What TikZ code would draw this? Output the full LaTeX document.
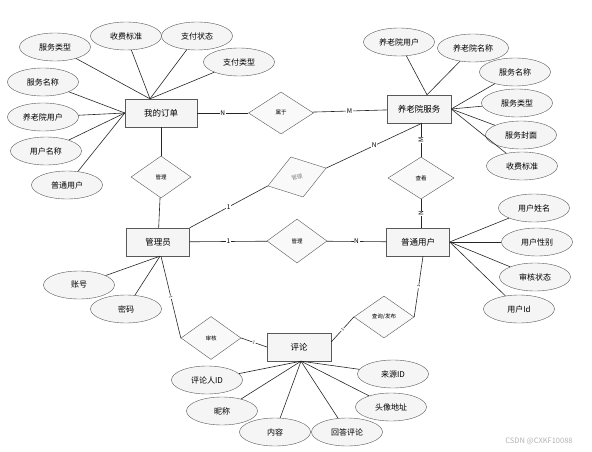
\documentclass[tikz,border=0pt]{standalone}
\usepackage{fontspec}
\setmainfont{Noto Sans CJK SC}
\usepackage{tikz}
\usetikzlibrary{shapes.geometric, positioning, calc}

\begin{document}
\begin{tikzpicture}[x=1pt, y=-1pt,
    entity/.style={rectangle, draw=gray!70!black, fill=gray!8, minimum width=64pt, minimum height=28pt, inner sep=0pt, font=\fontsize{8.5}{10}\selectfont},
    attr/.style={ellipse, draw=gray!70!black, fill=gray!8, minimum width=71pt, minimum height=28pt, inner sep=0pt, font=\fontsize{8}{10}\selectfont},
    rel/.style={diamond, draw=gray!70!black, fill=gray!5, minimum width=60pt, minimum height=42pt, inner sep=0pt, font=\fontsize{5.5}{6}\selectfont},
    link/.style={draw=black!85, line width=0.6pt},
    card/.style={fill=white, inner sep=0.6pt, font=\fontsize{6.5}{7}\selectfont}
]
\useasboundingbox (0,0) rectangle (592,452);

% entities
\node[entity, minimum width=72pt] (order) at (161,113) {我的订单};
\node[entity] (service) at (419,109) {养老院服务};
\node[entity, minimum width=63pt] (admin) at (158,242) {管理员};
\node[entity, minimum width=63pt] (user) at (418,242) {普通用户};
\node[entity] (comment) at (299,347) {评论};

% relations
\node[rel, minimum width=65pt] (belong) at (281,113) {属于};
\node[rel] (mgorder) at (161,177) {管理};
\node[rel, minimum width=61pt, rotate=17, text=gray] (mgservice) at (297,177) {管理};
\node[rel, minimum width=66pt] (view) at (421,178) {查看};
\node[rel, minimum height=44pt] (mguser) at (297,241) {管理};
\node[rel] (publish) at (384,317) {查询/发布};
\node[rel, minimum height=43pt] (audit) at (211,338) {审核};

% order attributes
\node[attr] (oType) at (55,47) {服务类型};
\node[attr] (oFee) at (126,36) {收费标准};
\node[attr] (oPayState) at (197,36) {支付状态};
\node[attr] (oPayType) at (239,62) {支付类型};
\node[attr] (oName) at (43,82) {服务名称};
\node[attr] (oHome) at (43,117) {养老院用户};
\node[attr] (oUserName) at (46,151) {用户名称};
\node[attr] (oUser) at (67,185) {普通用户};

% service attributes
\node[attr] (sHome) at (399,42) {养老院用户};
\node[attr] (sHomeName) at (473,48) {养老院名称};
\node[attr] (sName) at (515,72) {服务名称};
\node[attr] (sType) at (517,103) {服务类型};
\node[attr] (sCover) at (521,135) {服务封面};
\node[attr] (sFee) at (522,166) {收费标准};

% user attributes
\node[attr] (uName) at (534,208) {用户姓名};
\node[attr] (uSex) at (537,242) {用户性别};
\node[attr] (uState) at (535,277) {审核状态};
\node[attr] (uId) at (519,309) {用户Id};

% admin attributes
\node[attr] (aAccount) at (79,285) {账号};
\node[attr] (aPwd) at (126,309) {密码};

% comment attributes
\node[attr] (cUser) at (207,380) {评论人ID};
\node[attr] (cNick) at (222,411) {昵称};
\node[attr] (cText) at (275,432) {内容};
\node[attr] (cReply) at (347,432) {回答评论};
\node[attr] (cSource) at (393,374) {来源ID};
\node[attr] (cAvatar) at (391,407) {头像地址};

% attribute links
\foreach \a in {oType, oFee, oPayState, oPayType}
    \draw[link] (\a) -- ([xshift=-11pt]order.north);
\foreach \a in {oName, oHome, oUserName, oUser}
    \draw[link] (\a) -- (order.west);
\foreach \a in {sHome, sHomeName}
    \draw[link] (\a) -- ([xshift=8pt]service.north);
\foreach \a in {sName, sType, sCover, sFee}
    \draw[link] (\a) -- (service.east);
\foreach \a in {uName, uSex, uState, uId}
    \draw[link] (\a) -- (user.east);
\foreach \a in {aAccount, aPwd}
    \draw[link] (\a) -- ([xshift=2pt]admin.south);
\foreach \a in {cUser, cNick, cText, cReply, cSource, cAvatar}
    \draw[link] (\a) -- ([xshift=2pt]comment.south);

% relation links
\draw[link] (order) -- node[card]{N} (belong);
\draw[link] (belong) -- node[card]{M} (service);
\draw[link] (order) -- (mgorder);
\draw[link] (mgorder) -- (admin);
\draw[link] (admin.north east) -- node[card]{1} (mgservice.west);
\draw[link] (mgservice.east) -- node[card]{N} ([xshift=3pt]service.south);
\draw[link] ([xshift=2pt]service.south) -- node[card, rotate=90]{M} (view);
\draw[link] (view) -- node[card, rotate=90]{N} ([xshift=3pt]user.north);
\draw[link] (admin) -- node[card]{1} (mguser);
\draw[link] (mguser) -- node[card]{N} (user);
\draw[link] ([xshift=3pt]admin.south) -- node[card, sloped, font=\fontsize{4}{5}\selectfont]{1} (audit.west);
\draw[link] (audit.east) -- node[card, sloped, font=\fontsize{4}{5}\selectfont]{1} (comment.west);
\draw[link] ([xshift=5pt]user.south) -- node[card, sloped, font=\fontsize{4}{5}\selectfont]{1} (publish.east);
\draw[link] (publish.west) -- node[card, sloped, font=\fontsize{4}{5}\selectfont]{1} ([yshift=5pt]comment.east);

\node[text=gray!60, font=\fontsize{7.5}{9}\selectfont] (mark) at (539,441) {CSDN @CXKF10088};

\end{tikzpicture}
\end{document}
